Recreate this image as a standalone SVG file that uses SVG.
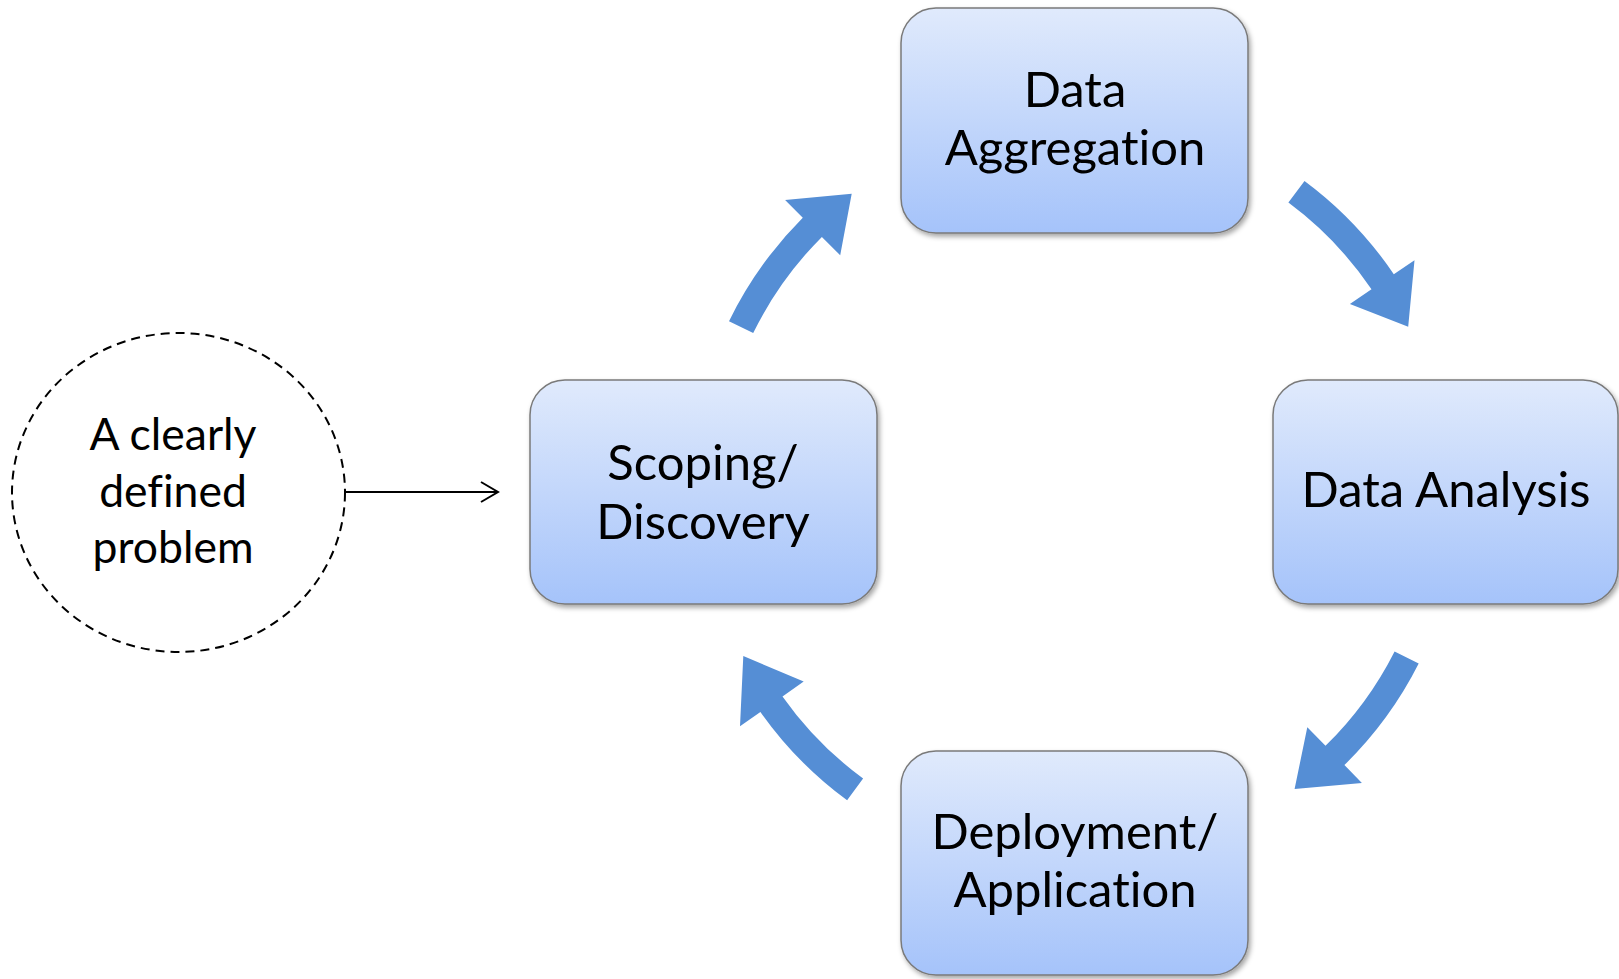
<svg xmlns="http://www.w3.org/2000/svg" width="1619" height="979" viewBox="0 0 1619 979">
<style>
.box{fill:url(#bg);stroke:#7a7a7a;stroke-width:1.5;filter:url(#sh)}
.t{font-family:Lato,"Open Sans","Liberation Sans",sans-serif;font-size:49px;fill:#000;text-anchor:middle;font-variant-ligatures:none;font-feature-settings:"liga" 0}
.ct{font-size:44.5px}
.arr{fill:#558ed5}
</style>
<defs>
<linearGradient id="bg" x1="0" y1="0" x2="0" y2="1">
<stop offset="0" stop-color="#e0eafc"/>
<stop offset="1" stop-color="#a5c3fa"/>
</linearGradient>
<filter id="sh" x="-10%" y="-10%" width="125%" height="125%">
<feDropShadow dx="2" dy="3" stdDeviation="2.5" flood-color="#000" flood-opacity="0.35"/>
</filter>
<marker id="open" markerWidth="20" markerHeight="22" refX="18" refY="11" orient="auto" markerUnits="userSpaceOnUse">
<path d="M1,1 L18,11 L1,21" fill="none" stroke="#000" stroke-width="2"/>
</marker>
</defs>
<g id="problem">
<ellipse cx="178.5" cy="492.5" rx="166.5" ry="159.5" fill="none" stroke="#000" stroke-width="2" stroke-dasharray="9,6"/>
<text class="t ct" x="173" y="450">A clearly</text>
<text class="t ct" x="173" y="507">defined</text>
<text class="t ct" x="173" y="563">problem</text>
</g>
<g id="scoping">
<rect class="box" x="530" y="380" width="347" height="224" rx="35"/>
<text class="t" x="703" y="480">Scoping/</text>
<text class="t" x="703" y="539">Discovery</text>
</g>
<g id="aggregation">
<rect class="box" x="901" y="8" width="347" height="225" rx="35"/>
<text class="t" x="1075" y="107">Data</text>
<text class="t" x="1075" y="165">Aggregation</text>
</g>
<g id="analysis">
<rect class="box" x="1273" y="380" width="345" height="224" rx="35"/>
<text class="t" x="1446" y="507">Data Analysis</text>
</g>
<g id="deployment">
<rect class="box" x="901" y="751" width="347" height="224" rx="35"/>
<text class="t" x="1075" y="849">Deployment/</text>
<text class="t" x="1075" y="907">Application</text>
</g>
<g id="connectors">
<line x1="346" y1="492" x2="498" y2="492" stroke="#000" stroke-width="2" marker-end="url(#open)"/>
<path class="arr" d="M729,321.2 A385,385 0 0 1 802.8,217.8 L785.1,200.1 L851.7,193.7 L840.2,255.2 L821.9,236.9 A358,358 0 0 0 753.2,333.1 Z"/>
<path class="arr" d="M1304.5,180.9 A385,385 0 0 1 1393.8,274.2 L1414.5,260.2 L1408.2,326.8 L1349.9,303.9 L1371.5,289.3 A358,358 0 0 0 1288.4,202.6 Z"/>
<path class="arr" d="M1418.7,663.6 A385,385 0 0 1 1344.4,765.1 L1361.9,782.9 L1294.6,789 L1307.3,727.2 L1325.5,745.8 A358,358 0 0 0 1394.6,651.4 Z"/>
<path class="arr" d="M847.1,800.3 A385,385 0 0 1 760.4,711.9 L740,726.3 L743.3,656.1 L803.7,681.4 L782.5,696.4 A358,358 0 0 0 863.1,778.5 Z"/>
</g>
</svg>
